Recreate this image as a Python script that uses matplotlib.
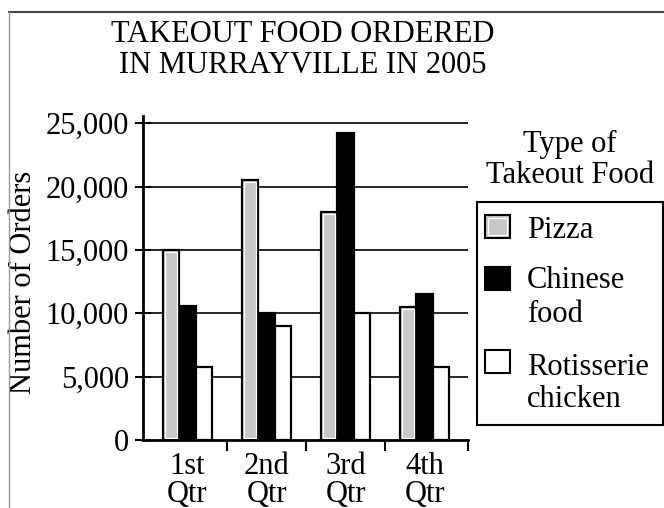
import matplotlib.pyplot as plt
from matplotlib.patches import Rectangle
from matplotlib.lines import Line2D
import numpy as np

### data
quarters = ["1st\nQtr", "2nd\nQtr", "3rd\nQtr", "4th\nQtr"]
pizza = [15000, 20500, 18000, 10500]
chinese = [10600, 10000, 24200, 11500]
rotisserie = [5800, 9000, 10000, 5800]
yticks = [0, 5000, 10000, 15000, 20000, 25000]
ytick_labels = ["0", "5,000", "10,000", "15,000", "20,000", "25,000"]

series = [pizza, chinese, rotisserie]
colors = ["#c8c8c8", "black", "white"]
legend_labels = [["Pizza"], ["Chinese", "food"], ["Rotisserie", "chicken"]]

W, H = 664, 508
plt.rcParams['font.family'] = ['Liberation Serif', 'DejaVu Serif']
fs = 22

fig = plt.figure(figsize=(W / 100, H / 100), dpi=100)

def px(x, y):
    # pixel coords (from top-left) -> figure fraction
    return x / W, 1 - y / H

ax = fig.add_axes([143 / W, 68 / H, 325 / W, 324.4 / H])

x = np.arange(len(quarters))
bw = 0.21
for i, (vals, c) in enumerate(zip(series, colors)):
    ax.bar(x + (i - 1) * bw, vals, bw, color=c, edgecolor="black",
           linewidth=1.6, zorder=3)

### thin white inner rim on the grey bars (kept off the baseline)
ax.bar(x - bw, np.array(pizza) - 330, bw - 0.052, bottom=160,
       color=colors[0], edgecolor="white", linewidth=0.9, zorder=4)

### gridlines
for yv in yticks[1:]:
    ax.axhline(yv, color="black", linewidth=1.2, zorder=1)

ax.set_xlim(-0.563, 3.55)
ax.set_ylim(0, 25600)
ax.set_yticks(yticks)
ax.set_yticklabels(ytick_labels, fontsize=fs)
ax.tick_params(axis="y", direction="inout", length=12, width=1.5, pad=4)

ax.set_xticks([0.5, 1.5, 2.5, 3.55])
ax.set_xticklabels([])
ax.tick_params(axis="x", which="major", direction="out", length=8, width=1.5)
ax.set_xticks(x, minor=True)
ax.set_xticklabels(quarters, minor=True, fontsize=fs, linespacing=0.95)
ax.tick_params(axis="x", which="minor", length=0, pad=9)

for s in ["top", "right"]:
    ax.spines[s].set_visible(False)
for s in ["left", "bottom"]:
    ax.spines[s].set_linewidth(2)
    ax.spines[s].set_zorder(5)

ax.set_ylabel("Number of Orders", fontsize=fs)
ax.yaxis.set_label_coords((38 - 143) / 325, 0.4855)

### title, one text per line at the reference baselines
for txt, base in [("TAKEOUT FOOD ORDERED", 42), ("IN MURRAYVILLE IN 2005", 73)]:
    fig.text(*px(303, base), txt, ha="center", va="baseline", fontsize=fs)

### legend
for txt, base in [("Type of", 152), ("Takeout Food", 183)]:
    fig.text(*px(570, base), txt, ha="center", va="baseline", fontsize=fs)
fig.add_artist(Rectangle(px(477, 425), 186 / W, 223 / H, transform=fig.transFigure,
                         fill=False, edgecolor="black", linewidth=1.5))
patch_tops = [215, 267, 350]
label_bases = [[238], [288, 322], [375, 407]]
for top, c, lines, bases in zip(patch_tops, colors, legend_labels, label_bases):
    fig.add_artist(Rectangle(px(485, top + 23), 25 / W, 23 / H,
                             transform=fig.transFigure, facecolor=c,
                             edgecolor="black", linewidth=1.5))
    for txt, base in zip(lines, bases):
        fig.text(*px(527, base), txt, ha="left", va="baseline", fontsize=fs)
# inner white rim on the grey swatch
fig.add_artist(Rectangle(px(488, 215 + 20), 19 / W, 17 / H,
                         transform=fig.transFigure, facecolor=colors[0],
                         edgecolor="white", linewidth=0.9))

### outer border
fig.add_artist(Line2D([9 / W, 1], [1 - 11.5 / H] * 2, transform=fig.transFigure,
                      color="#444444", linewidth=1.5))
fig.add_artist(Line2D([9 / W] * 2, [0, 1 - 11.5 / H], transform=fig.transFigure,
                      color="#999999", linewidth=1))

plt.savefig("out.png", dpi=100)
